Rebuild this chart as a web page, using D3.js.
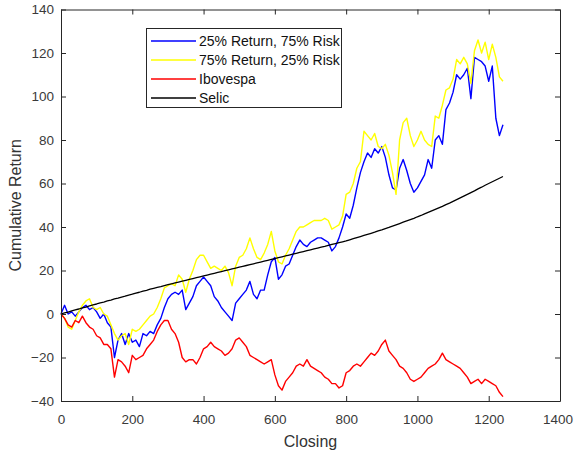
<!DOCTYPE html>
<html>
<head>
<meta charset="utf-8">
<script src="https://cdn.jsdelivr.net/npm/d3@7"></script>
<style>
  html, body { margin: 0; padding: 0; background: #fff; }
  svg { display: block; font-family: "Liberation Sans", Arial, sans-serif; }
</style>
</head>
<body>
<svg id="chart" width="574" height="455"></svg>
<script>
// ---- data ----
const closing = d3.range(0, 1241, 10); // 0,10,...,1240

const seriesNames = ["25% Return, 75% Risk", "75% Return, 25% Risk", "Ibovespa", "Selic"];

const blue = [0,4,0,1,-1,1,3,4,2,3,1,-2,0,-4,-6,-20,-12,-9,-14,-9,
  -13,-12,-15,-9,-10,-8,-9,-5,-2,3,7,9,10,9,11,2,5,8,13,15,
  17,15,13,8,6,3,1,-1,-3,5,7,9,11,15,9,7,11,11,18,24,
  26,16,18,22,23,27,31,34,32,31,33,34,35,35,34,33,29,31,35,40,
  46,44,50,58,65,70,74,72,76,74,77,72,64,58,57,67,71,66,60,56,
  58,61,64,71,67,80,82,78,94,97,102,110,108,110,113,99,118,117,116,114,
  107,114,90,82,87];

const yellow = [0,-2,-6,-7,-3,1,4,6,7,3,2,3,0,-1,-5,-9,-12,-10,-9,-14,
  -7,-8,-7,-5,-3,-1,0,3,7,12,13,14,13,18,16,10,16,20,25,27,
  27,24,21,22,21,20,22,19,13,22,26,27,30,35,30,26,25,28,32,38,
  29,24,23,27,30,34,38,40,40,41,42,43,43,43,44,43,39,40,41,45,
  55,56,60,67,70,84,82,80,83,77,76,78,73,65,55,80,88,90,82,77,
  80,84,80,78,77,91,90,96,103,104,108,117,115,118,115,106,121,126,120,125,
  117,124,118,109,107];

const ibovespa = [0,-2,-5,-6,-3,-4,-1,-4,-6,-7,-10,-11,-14,-14,-16,-29,-21,-22,-24,-27,
  -19,-21,-20,-19,-16,-14,-12,-8,-5,-3,-3,-7,-9,-13,-20,-22,-21,-21,-23,-20,
  -16,-15,-13,-15,-16,-17,-19,-18,-16,-12,-11,-13,-15,-19,-20,-21,-22,-23,-22,-21,
  -28,-33,-35,-31,-29,-27,-24,-23,-24,-21,-24,-25,-26,-27,-29,-30,-32,-32,-34,-33,
  -27,-26,-24,-23,-24,-22,-20,-18,-19,-17,-14,-12,-17,-19,-21,-24,-25,-27,-30,-31,
  -30,-29,-27,-25,-24,-23,-21,-18,-21,-22,-23,-24,-25,-27,-29,-32,-31,-30,-32,-30,
  -31,-32,-33,-36,-38];

const selic = [0,0.5,0.9,1.4,1.9,2.3,2.8,3.2,3.7,4.2,4.6,5.1,5.5,6.0,6.4,6.9,7.3,7.8,8.2,8.7,
  9.1,9.6,10.0,10.5,10.9,11.4,11.8,12.2,12.6,13.1,13.5,13.9,14.3,14.7,15.1,15.5,15.9,16.3,16.7,17.1,
  17.5,17.9,18.3,18.7,19.1,19.5,19.9,20.3,20.7,21.1,21.5,21.9,22.3,22.7,23.1,23.5,23.9,24.3,24.7,25.1,
  25.5,25.9,26.3,26.7,27.1,27.5,27.9,28.3,28.7,29.1,29.5,29.9,30.3,30.7,31.1,31.6,32.0,32.4,32.8,33.2,
  33.6,34.1,34.6,35.1,35.6,36.1,36.6,37.1,37.6,38.2,38.7,39.3,39.8,40.4,41.0,41.6,42.2,42.8,43.4,44.0,
  44.7,45.3,46.0,46.7,47.4,48.1,48.8,49.5,50.3,51.0,51.8,52.6,53.4,54.2,55.0,55.8,56.6,57.5,58.3,59.2,
  60.0,60.8,61.6,62.4,63.2];

const xTicks = [0, 200, 400, 600, 800, 1000, 1200, 1400];
const yTicks = [-40, -20, 0, 20, 40, 60, 80, 100, 120, 140];
const xLabel = "Closing";
const yLabel = "Cumulative Return";

// ---- drawing ----
const colors = ["#0000ff", "#ffff00", "#ff0000", "#000000"];
const allSeries = [blue, yellow, ibovespa, selic];

const svg = d3.select("#chart");
const L = 61, R = 560, T = 9.5, B = 401;
const x = d3.scaleLinear().domain([0, 1400]).range([L, R]);
const y = d3.scaleLinear().domain([-40, 140]).range([B, T]);
const axisColor = "#262626";
const tickFont = "13.5px";

svg.append("rect").attr("x", L).attr("y", T).attr("width", R - L).attr("height", B - T).attr("fill", "#fff");

const line = d3.line().x((d, i) => x(closing[i])).y(d => y(d));
const plot = svg.append("g");
allSeries.forEach((s, k) => {
  plot.append("path")
    .datum(s)
    .attr("d", line)
    .attr("fill", "none")
    .attr("stroke", colors[k])
    .attr("stroke-width", k === 3 ? 1.3 : 1.4)
    .attr("stroke-linejoin", "round");
});

function styleAxis(g, showText) {
  g.selectAll("path.domain").attr("stroke", axisColor).attr("stroke-width", 1);
  g.selectAll(".tick line").attr("stroke", axisColor).attr("stroke-width", 1);
  g.selectAll(".tick text").attr("fill", "#3a3a3a").style("font-size", tickFont)
    .style("font-family", '"Liberation Sans", Arial, sans-serif');
  if (!showText) g.selectAll(".tick text").remove();
}

svg.append("g").attr("transform", `translate(0,${B})`)
  .call(d3.axisBottom(x).tickValues(xTicks).tickSize(-5).tickSizeOuter(0).tickPadding(13).tickFormat(d3.format("d")))
  .call(g => styleAxis(g, true))
  .call(g => g.selectAll(".tick text").filter(d => d === 1400).attr("x", -2.5));
svg.append("g").attr("transform", `translate(0,${T})`)
  .call(d3.axisTop(x).tickValues(xTicks).tickSize(-5).tickSizeOuter(0))
  .call(g => styleAxis(g, false));
svg.append("g").attr("transform", `translate(${L},0)`)
  .call(d3.axisLeft(y).tickValues(yTicks).tickSize(-5).tickSizeOuter(0).tickPadding(7).tickFormat(d3.format("d")))
  .call(g => styleAxis(g, true));
svg.append("g").attr("transform", `translate(${R},0)`)
  .call(d3.axisRight(y).tickValues(yTicks).tickSize(-5).tickSizeOuter(0))
  .call(g => styleAxis(g, false));

svg.append("text").attr("x", (L + R) / 2).attr("y", 447)
  .attr("text-anchor", "middle").attr("fill", "#333").style("font-size", "16px").text(xLabel);
svg.append("text").attr("transform", `translate(21,${(T + B) / 2}) rotate(-90)`)
  .attr("text-anchor", "middle").attr("fill", "#333").style("font-size", "16px").text(yLabel);

// legend
const lg = svg.append("g");
lg.append("rect").attr("x", 146.5).attr("y", 28.5).attr("width", 195).attr("height", 79)
  .attr("fill", "#fff").attr("stroke", axisColor).attr("stroke-width", 1);
const rowY = [41, 60, 79, 98];
seriesNames.forEach((n, i) => {
  lg.append("line").attr("x1", 151).attr("x2", 196).attr("y1", rowY[i]).attr("y2", rowY[i])
    .attr("stroke", colors[i]).attr("stroke-width", 1.3);
  lg.append("text").attr("x", 199).attr("y", rowY[i]).attr("dy", "0.35em")
    .attr("fill", "#111").style("font-size", "14px").text(n);
});
</script>
</body>
</html>
